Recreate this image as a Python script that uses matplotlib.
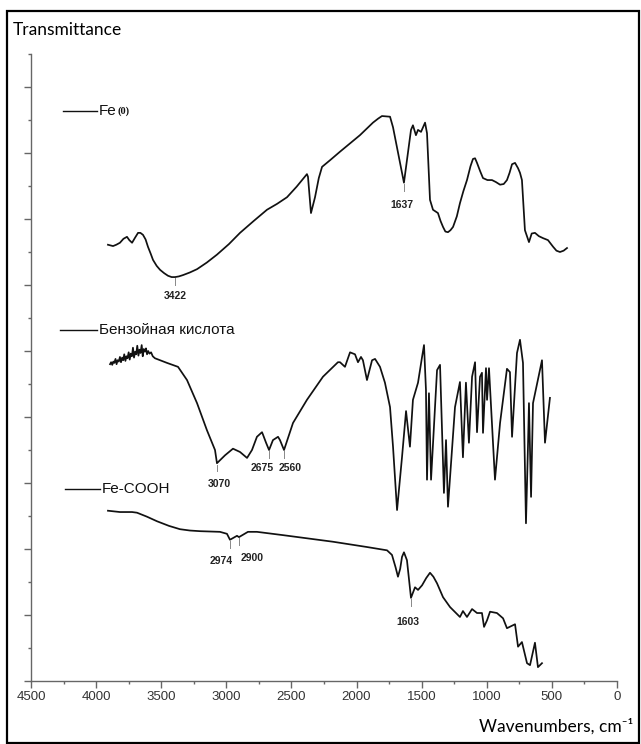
import numpy as np
import matplotlib
matplotlib.use("Agg")
import matplotlib.pyplot as plt
from matplotlib.lines import Line2D
from matplotlib.patches import Rectangle
from matplotlib.ticker import MultipleLocator

plt.rcParams['font.family'] = ['Liberation Sans', 'DejaVu Sans']

# --- spectra (wavenumber, cm-1 ; transmittance, arb. units) ---
fe0_wn = [3909, 3890, 3870, 3845, 3817, 3790, 3763, 3745, 3724, 3700, 3678, 3660,
          3640, 3620, 3602, 3580, 3563, 3535, 3509, 3478, 3448, 3420, 3394, 3365,
          3333, 3280, 3225, 3150, 3072, 2980, 2895, 2790, 2688, 2610, 2534, 2460,
          2381, 2373, 2350, 2319, 2290, 2265, 2204, 2127, 1974, 1874, 1835, 1805,
          1743, 1720, 1636, 1582, 1567, 1544, 1528, 1505, 1474, 1459, 1436, 1413,
          1375, 1355, 1336, 1318, 1298, 1279, 1259, 1230, 1206, 1180, 1152, 1125,
          1106, 1090, 1075, 1050, 1029, 995, 960, 930, 898, 870, 845, 825, 806,
          783, 760, 745, 730, 707, 676, 655, 630, 600, 568, 530, 491, 465, 438, 410, 384]
fe0_t = [6.61, 6.60, 6.59, 6.61, 6.64, 6.70, 6.73, 6.68, 6.64, 6.72, 6.79, 6.79,
         6.76, 6.69, 6.58, 6.47, 6.38, 6.29, 6.23, 6.18, 6.14, 6.12, 6.12, 6.13,
         6.15, 6.19, 6.24, 6.34, 6.46, 6.62, 6.79, 6.97, 7.14, 7.23, 7.33, 7.49,
         7.68, 7.64, 7.09, 7.33, 7.62, 7.79, 7.89, 8.02, 8.27, 8.46, 8.52, 8.56,
         8.55, 8.39, 7.55, 8.35, 8.42, 8.27, 8.35, 8.32, 8.46, 8.30, 7.29, 7.14,
         7.09, 6.97, 6.88, 6.81, 6.80, 6.83, 6.88, 7.04, 7.24, 7.42, 7.59, 7.80,
         7.91, 7.92, 7.85, 7.72, 7.62, 7.59, 7.59, 7.56, 7.52, 7.53, 7.59, 7.70, 7.83,
         7.85, 7.77, 7.70, 7.59, 6.83, 6.65, 6.78, 6.79, 6.74, 6.71, 6.68,
         6.58, 6.52, 6.50, 6.52, 6.56]

benz_wn = [3893, 3885, 3876, 3868, 3860, 3851, 3843, 3835, 3826, 3817, 3809, 3800,
           3792, 3784, 3775, 3767, 3759, 3750, 3742, 3734, 3725, 3717, 3709, 3700,
           3692, 3684, 3675, 3667, 3659, 3650, 3642, 3634, 3625, 3617, 3609, 3600,
           3590, 3578, 3565, 3548, 3456, 3371, 3302, 3225, 3149, 3087, 3072, 3010,
           2949, 2895, 2841, 2803, 2765, 2726, 2718, 2695, 2672, 2642, 2603, 2588,
           2557, 2488, 2381, 2258, 2143, 2127, 2089, 2050, 2012, 1989, 1966, 1951,
           1920, 1881, 1858, 1820, 1782, 1743, 1720, 1689, 1651, 1620, 1590, 1567,
           1528, 1497, 1482, 1467, 1459, 1444, 1428, 1382, 1359, 1329, 1313, 1298,
           1244, 1206, 1183, 1160, 1137, 1113, 1090, 1075, 1052, 1037, 1029, 1006,
           998, 983, 937, 898, 845, 822, 806, 768, 745, 722, 699, 683, 676, 660,
           645, 576, 553, 515]
benz_t = [4.80, 4.83, 4.79, 4.84, 4.82, 4.88, 4.80, 4.86, 4.84, 4.91, 4.83, 4.90,
          4.86, 4.95, 4.85, 4.92, 4.89, 4.98, 4.87, 4.96, 4.92, 5.05, 4.90, 4.99,
          4.95, 5.08, 4.93, 5.02, 4.97, 5.09, 4.92, 5.03, 4.99, 5.04, 4.95, 5.00,
          4.96, 4.98, 4.92, 4.89, 4.82, 4.76, 4.56, 4.21, 3.80, 3.50, 3.30, 3.42,
          3.52, 3.47, 3.38, 3.50, 3.70, 3.77, 3.73, 3.61, 3.50, 3.65, 3.70, 3.65,
          3.50, 3.91, 4.26, 4.61, 4.83, 4.83, 4.76, 4.98, 4.95, 4.83, 4.91, 4.86,
          4.56, 4.86, 4.88, 4.76, 4.52, 4.15, 3.55, 2.59, 3.39, 4.09, 3.55, 4.26,
          4.52, 4.91, 5.09, 4.41, 3.05, 4.36, 3.05, 4.71, 4.79, 2.85, 3.65, 2.64,
          4.15, 4.53, 3.39, 4.52, 3.61, 4.61, 4.83, 3.77, 4.61, 4.67, 3.76, 4.74,
          4.26, 4.74, 3.05, 3.91, 4.73, 4.68, 3.70, 4.97, 5.17, 4.82, 2.39, 3.61,
          4.21, 2.79, 4.21, 4.86, 3.61, 4.29]

fecooh_wn = [3909, 3817, 3724, 3686, 3610, 3532, 3440, 3356, 3280, 3202, 3049, 2995,
             2972, 2918, 2903, 2834, 2765, 2565, 2181, 1920, 1766, 1728, 1700, 1682,
             1665, 1651, 1636, 1613, 1582, 1551, 1528, 1497, 1465, 1436, 1410, 1382,
             1336, 1282, 1206, 1183, 1152, 1113, 1075, 1037, 1021, 998, 975, 922, 875,
             845, 783, 760, 730, 691, 668, 630, 607, 576]
fecooh_t = [2.58, 2.56, 2.56, 2.55, 2.49, 2.42, 2.35, 2.30, 2.28, 2.27, 2.26, 2.23,
            2.14, 2.20, 2.18, 2.26, 2.26, 2.21, 2.11, 2.03, 1.98, 1.91, 1.72, 1.58,
            1.70, 1.88, 1.95, 1.83, 1.26, 1.42, 1.38, 1.45, 1.56, 1.64, 1.58, 1.48,
            1.27, 1.12, 0.97, 1.06, 0.97, 1.09, 1.03, 1.03, 0.82, 0.92, 1.05, 1.03,
            0.95, 0.80, 0.86, 0.52, 0.59, 0.27, 0.24, 0.58, 0.21, 0.27]

series_names = ['Fe', 'Бензойная кислота', 'Fe-COOH']

# peak labels: (series index, tick position, text, label offset in points)
peaks = [
    (0, 3394, '3422', (0, -4.5)),
    (0, 1636, '1637', (-1.5, -7)),
    (1, 3072, '3070', (2, -6)),
    (1, 2672, '2675', (-5, -3.5)),
    (1, 2557, '2560', (4.5, -3.5)),
    (2, 2972, '2974', (-6, -6)),
    (2, 2903, '2900', (9.5, -6)),
    (2, 1582, '1603', (-2, -8)),
]

fig = plt.figure(figsize=(6.41, 7.44), dpi=100)
ax = fig.add_axes([31 / 641, 1 - 681 / 744, 586 / 641, 627 / 744])

data = [(fe0_wn, fe0_t), (benz_wn, benz_t), (fecooh_wn, fecooh_t)]
for wn, t in data:
    ax.plot(wn, t, color='#111111', lw=1.25, solid_joinstyle='round')

ax.set_xlim(4500, 0)
ax.set_ylim(0, 9.5)
ax.xaxis.set_major_locator(MultipleLocator(500))
ax.xaxis.set_minor_locator(MultipleLocator(250))
ax.yaxis.set_major_locator(MultipleLocator(1))
ax.yaxis.set_minor_locator(MultipleLocator(0.5))
for s in ['top', 'right']:
    ax.spines[s].set_visible(False)
for s in ['left', 'bottom']:
    ax.spines[s].set_color('#666666')
    ax.spines[s].set_linewidth(1.0)
ax.tick_params(which='major', length=5, width=1, color='#666666', labelsize=9.5,
               labelcolor='#333333', pad=2)
ax.tick_params(which='minor', length=2.5, width=1, color='#666666')
ax.tick_params(axis='y', which='both', labelleft=False)

# peak ticks and labels
for si, pos, txt, off in peaks:
    wn, t = data[si]
    yv = np.interp(pos, wn[::-1], t[::-1])
    top, bot = yv - 0.02, yv - 0.12
    ax.plot([pos, pos], [top, bot], color='#888888', lw=0.7)
    ax.annotate(txt, xy=(pos, bot), xytext=off, textcoords='offset points',
                ha='center', va='top', fontsize=7.5, fontweight='bold', color='#222222')

# hand-made legend entries next to each spectrum
legend_pos = [(63, 97, 111), (60, 97, 330), (65, 100, 489)]
W, H = 641, 744
for (x0, x1, y), name in zip(legend_pos, series_names):
    fig.add_artist(Line2D([x0 / W, x1 / W], [1 - y / H, 1 - y / H], color='#111111', lw=1.0))
    fig.text((x1 + 2) / W, 1 - y / H, name, fontsize=11, va='center', ha='left', color='#111111')
# the "(0)" after Fe
fig.text(118 / W, 1 - 111 / H, '(0)', fontsize=7.5, fontweight='bold', family='Liberation Serif',
         va='center', ha='left', color='#111111')

fig.text(13 / W, 1 - 30 / H, 'Transmittance', fontsize=12.5, family=['Lato', 'DejaVu Sans'],
         va='center', ha='left')
fig.text(633 / W, 1 - 726 / H, 'Wavenumbers, cm\u207b\u00b9', fontsize=12.5,
         family=['Lato', 'DejaVu Sans'], va='center', ha='right')

# outer frame
fig.add_artist(Rectangle((7 / W, 1 / H), 632 / W, 1 - 12 / H, transform=fig.transFigure,
                         fill=False, ec='black', lw=1.6))

fig.savefig('out.png', dpi=100)
